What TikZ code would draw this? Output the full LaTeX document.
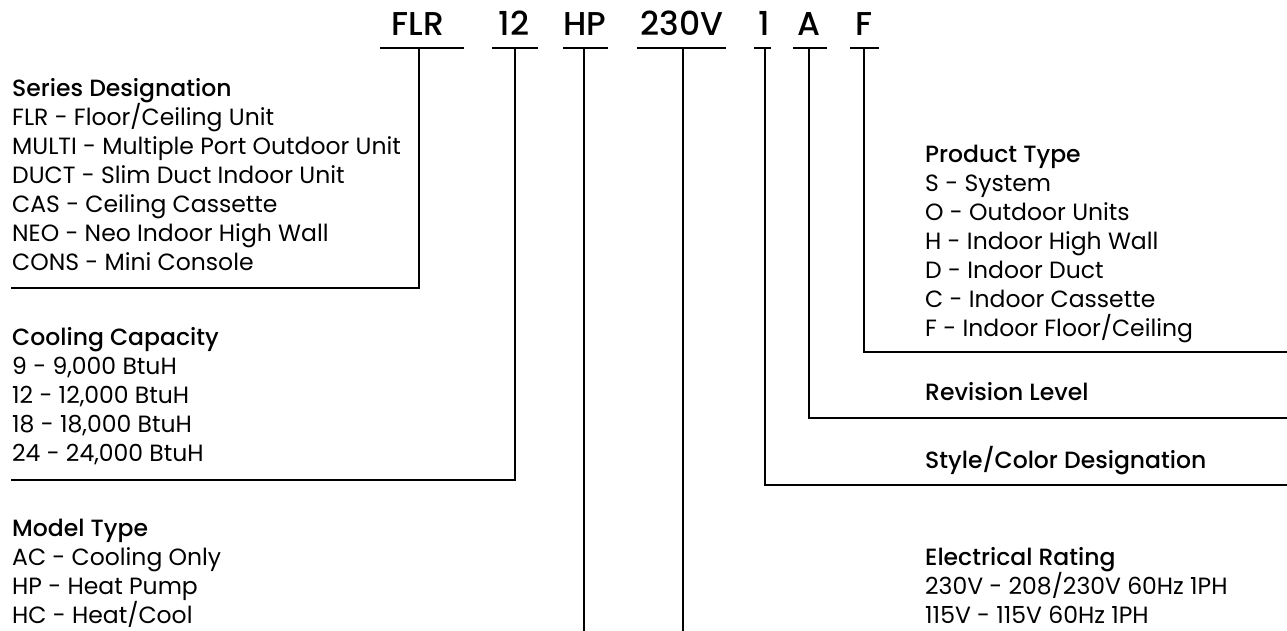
\documentclass[tikz,border=0pt]{standalone}
\usepackage{fontspec}
\setmainfont{Poppins}[BoldFont={Poppins Medium}]
\newcommand\fstrut{\rule{0pt}{22pt}}
\begin{document}
\begin{tikzpicture}[x=1pt,y=-1pt,
  code/.style={font=\bfseries\fontsize{33}{33}\selectfont, anchor=base, inner sep=0pt},
  desc/.style={anchor=north west, align=left, inner sep=0pt, font=\fontsize{23.5}{29}\selectfont},
  link/.style={line width=2.6pt, line join=miter, line cap=butt},
  uline/.style={line width=2.6pt, line cap=butt}]
\useasboundingbox (0,0) rectangle (1287,631);

% code letters
\node[code] (flr)  at (418,36) {FLR};
\node[code] (cap)  at (514,36) {12};
\node[code] (hp)   at (585,36) {HP};
\node[code] (volt) at (682,36) {230V};
\node[code] (sty)  at (764,36) {1};
\node[code] (rev)  at (809,36) {A};
\node[code] (prod) at (864,36) {F};

% underlines
\draw[uline] (380,48) -- (464,48);
\draw[uline] (492,48) -- (538,48);
\draw[uline] (563,48) -- (608,48);
\draw[uline] (637,48) -- (726,48);
\draw[uline] (754,48) -- (771,48);
\draw[uline] (793,48) -- (827,48);
\draw[uline] (850,48) -- (879,48);

% stem tops
\coordinate (flr-s)  at (419,48);
\coordinate (cap-s)  at (515,48);
\coordinate (hp-s)   at (584,48);
\coordinate (volt-s) at (683,48);
\coordinate (sty-s)  at (765,48);
\coordinate (rev-s)  at (809,48);
\coordinate (prod-s) at (864,48);

% descriptions
\node[desc] (series) at (12,74) {\fstrut\textbf{Series Designation}\\
FLR - Floor/Ceiling Unit\\
MULTI - Multiple Port Outdoor Unit\\
DUCT - Slim Duct Indoor Unit\\
CAS - Ceiling Cassette\\
NEO - Neo Indoor High Wall\\
CONS - Mini Console};

\node[desc] (cooling) at (12,323) {\fstrut\textbf{Cooling Capacity}\\
9 - 9,000 BtuH\\
12 - 12,000 BtuH\\
18 - 18,000 BtuH\\
24 - 24,000 BtuH};

\node[desc] (model) at (12,514) {\fstrut\textbf{Model Type}\\
AC - Cooling Only\\
HP - Heat Pump\\
HC - Heat/Cool};

\node[desc] (product) at (925,140) {\fstrut\textbf{Product Type}\\
S - System\\
O - Outdoor Units\\
H - Indoor High Wall\\
D - Indoor Duct\\
C - Indoor Cassette\\
F - Indoor Floor/Ceiling};

\node[desc] (revision) at (925,378) {\fstrut\textbf{Revision Level}};
\node[desc] (style) at (925,446) {\fstrut\textbf{Style/Color Designation}};

\node[desc] (elec) at (925,543) {\fstrut\textbf{Electrical Rating}\\
230V - 208/230V 60Hz 1PH\\
115V - 115V 60Hz 1PH};

% connector ends
\coordinate (series-e) at (11,288);
\coordinate (cooling-e) at (11,480);
\coordinate (hp-e) at (584,631);
\coordinate (volt-e) at (683,631);
\coordinate (style-e) at (1287,485);
\coordinate (revision-e) at (1287,418);
\coordinate (product-e) at (1287,352);

% connectors
\draw[link] (flr-s) |- (series-e);
\draw[link] (cap-s) |- (cooling-e);
\draw[link] (hp-s) -- (hp-e);
\draw[link] (volt-s) -- (volt-e);
\draw[link] (sty-s) |- (style-e);
\draw[link] (rev-s) |- (revision-e);
\draw[link] (prod-s) |- (product-e);
\end{tikzpicture}
\end{document}
